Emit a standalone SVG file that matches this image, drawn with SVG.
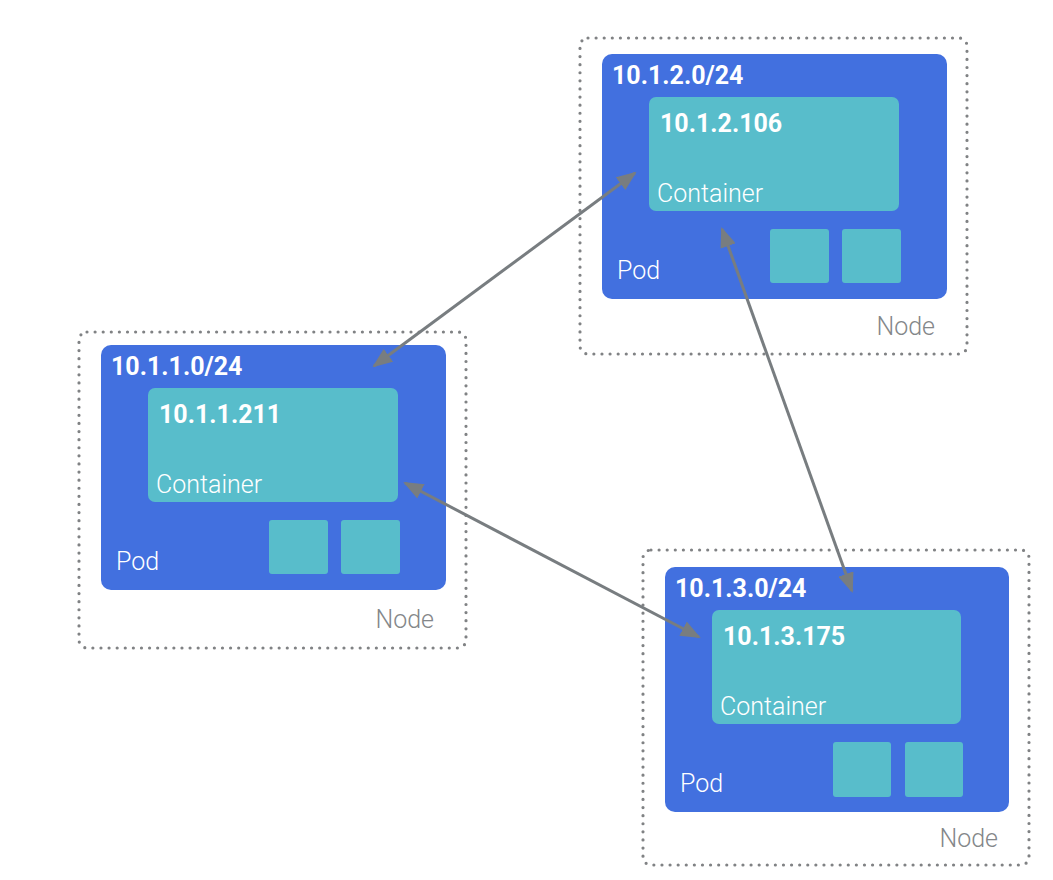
<svg xmlns="http://www.w3.org/2000/svg" width="1053" height="880" viewBox="0 0 1053 880">
<style>
.node{fill:none;stroke:#808284;stroke-width:3.2;stroke-dasharray:0 8.1;stroke-linecap:round}
.pod{fill:#4270df}
.ctr{fill:#58bdcb}
.sq{fill:#58bdcb}
.ip{font-family:Roboto,"Liberation Sans",sans-serif;font-weight:bold;font-size:25px;fill:#fff}
.lbl{font-family:Roboto,"Liberation Sans",sans-serif;font-weight:300;font-size:25px;fill:#fff}
.nlbl{font-family:Roboto,"Liberation Sans",sans-serif;font-weight:300;font-size:25px;fill:#84878a;text-anchor:end}
.conn{stroke:#787d80;stroke-width:3;fill:none}
</style>
<defs>
<marker id="ah" viewBox="0 0 20 16" refX="18" refY="8" markerWidth="20" markerHeight="16" markerUnits="userSpaceOnUse" orient="auto-start-reverse">
<path d="M0,0 L20,8 L0,16 Z" fill="#787d80"/>
</marker>
</defs>
<rect width="1053" height="880" fill="#fff"/>

<g id="node-top" transform="translate(602,54)">
<rect class="node" x="-22" y="-16" width="387" height="316" rx="8"/>
<rect class="pod" x="0" y="0" width="345" height="245" rx="10"/>
<rect class="ctr" x="47" y="43" width="250" height="114" rx="7"/>
<rect class="sq" x="168" y="175" width="59" height="54" rx="3"/>
<rect class="sq" x="240" y="175" width="59" height="54" rx="3"/>
<text class="ip" x="10" y="30">10.1.2.0/24</text>
<text class="ip" x="58" y="78">10.1.2.106</text>
<text class="lbl" x="55" y="148">Container</text>
<text class="lbl" x="15" y="225">Pod</text>
<text class="nlbl" x="333" y="281">Node</text>
</g>

<g id="node-left" transform="translate(101,345)">
<rect class="node" x="-22" y="-13" width="387" height="316" rx="8"/>
<rect class="pod" x="0" y="0" width="345" height="245" rx="10"/>
<rect class="ctr" x="47" y="43" width="250" height="114" rx="7"/>
<rect class="sq" x="168" y="175" width="59" height="54" rx="3"/>
<rect class="sq" x="240" y="175" width="59" height="54" rx="3"/>
<text class="ip" x="10" y="30">10.1.1.0/24</text>
<text class="ip" x="58" y="78">10.1.1.211</text>
<text class="lbl" x="55" y="148">Container</text>
<text class="lbl" x="15" y="225">Pod</text>
<text class="nlbl" x="333" y="283">Node</text>
</g>

<g id="node-bottom" transform="translate(665,567)">
<rect class="node" x="-22" y="-17" width="386" height="315" rx="8"/>
<rect class="pod" x="0" y="0" width="344" height="245" rx="10"/>
<rect class="ctr" x="47" y="43" width="249" height="114" rx="7"/>
<rect class="sq" x="168" y="175" width="58" height="55" rx="3"/>
<rect class="sq" x="240" y="175" width="58" height="55" rx="3"/>
<text class="ip" x="10" y="30">10.1.3.0/24</text>
<text class="ip" x="58" y="78">10.1.3.175</text>
<text class="lbl" x="55" y="148">Container</text>
<text class="lbl" x="15" y="225">Pod</text>
<text class="nlbl" x="333" y="280">Node</text>
</g>

<g id="connectors">
<line class="conn" x1="374" y1="366" x2="635" y2="173" marker-start="url(#ah)" marker-end="url(#ah)"/>
<line class="conn" x1="405" y1="483" x2="699" y2="637" marker-start="url(#ah)" marker-end="url(#ah)"/>
<line class="conn" x1="722" y1="229" x2="852" y2="591" marker-start="url(#ah)" marker-end="url(#ah)"/>
</g>
</svg>
